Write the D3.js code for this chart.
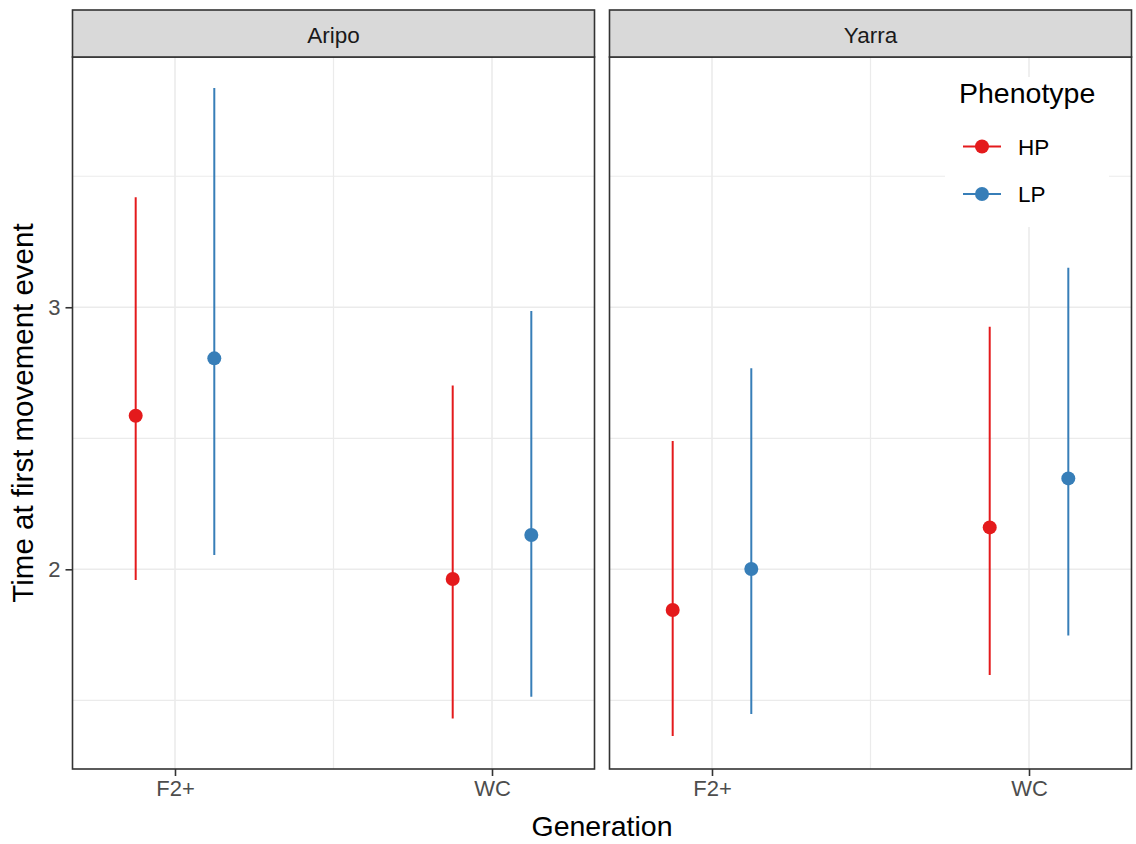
<!DOCTYPE html>
<html>
<head>
<meta charset="utf-8">
<script src="https://cdn.jsdelivr.net/npm/d3@7"></script>
<style>
  html, body { margin: 0; padding: 0; background: #fff; }
  svg { display: block; font-family: "Liberation Sans", Arial, sans-serif; }
</style>
</head>
<body>
<svg id="chart" width="1136" height="844"></svg>
<script>
// Facets, x categories and groups
const sites = ["Aripo", "Yarra"];
const generations = ["F2+", "WC"];
const phenotypes = ["HP", "LP"];

// Mean and interval bounds, indexed [site][generation]
const hpMean  = [[2.586, 1.963], [1.845, 2.160]];
const hpLower = [[1.959, 1.431], [1.364, 1.597]];
const hpUpper = [[3.420, 2.701], [2.490, 2.926]];
const lpMean  = [[2.805, 2.131], [2.001, 2.347]];
const lpLower = [[2.055, 1.514], [1.448, 1.747]];
const lpUpper = [[3.837, 2.986], [2.767, 3.151]];

const yTicks = [2, 3];
const yMinor = [1.5, 2.5, 3.5];
const yDomain = [1.238, 3.955];

const colors = { HP: "#E41A1C", LP: "#377EB8" };

// Long-format rows for drawing
const series = { HP: [hpMean, hpLower, hpUpper], LP: [lpMean, lpLower, lpUpper] };
const rows = [];
sites.forEach((s, si) => generations.forEach((g, gi) => phenotypes.forEach(p => {
  const [m, lo, hi] = series[p];
  rows.push({ site: s, gen: g, pheno: p, mean: m[si][gi], lo: lo[si][gi], hi: hi[si][gi] });
})));

const svg = d3.select("#chart");
const panelTop = 57, panelBottom = 769, stripTop = 10;
const panelW = 522, panelX = [72.5, 609.5];
const border = "#333333";

const y = d3.scaleLinear().domain(yDomain).range([panelBottom, panelTop]);
const x = d3.scalePoint().domain(generations).range([0, panelW]).padding(0.3233);
const dodge = d3.scalePoint().domain(phenotypes).range([-39.3, 39.3]);

sites.forEach((site, si) => {
  const g = svg.append("g").attr("transform", `translate(${panelX[si]},0)`);

  // panel background and grid
  g.append("rect").attr("x", 0).attr("y", panelTop).attr("width", panelW)
    .attr("height", panelBottom - panelTop).attr("fill", "#fff");
  g.selectAll(".yminor").data(yMinor).join("line")
    .attr("x1", 0).attr("x2", panelW).attr("y1", d => y(d)).attr("y2", d => y(d))
    .attr("stroke", "#ebebeb").attr("stroke-width", 1.2);
  g.selectAll(".ymajor").data(yTicks).join("line")
    .attr("x1", 0).attr("x2", panelW).attr("y1", d => y(d)).attr("y2", d => y(d))
    .attr("stroke", "#ebebeb").attr("stroke-width", 1.6);
  const xMid = (x(generations[0]) + x(generations[1])) / 2;
  g.append("line").attr("x1", xMid).attr("x2", xMid).attr("y1", panelTop).attr("y2", panelBottom)
    .attr("stroke", "#ebebeb").attr("stroke-width", 1.2);
  g.selectAll(".xmajor").data(generations).join("line")
    .attr("x1", d => x(d)).attr("x2", d => x(d)).attr("y1", panelTop).attr("y2", panelBottom)
    .attr("stroke", "#ebebeb").attr("stroke-width", 1.6);

  // interval lines and points
  const data = rows.filter(r => r.site === site);
  g.selectAll(".range").data(data).join("line")
    .attr("x1", d => x(d.gen) + dodge(d.pheno)).attr("x2", d => x(d.gen) + dodge(d.pheno))
    .attr("y1", d => y(d.lo)).attr("y2", d => y(d.hi))
    .attr("stroke", d => colors[d.pheno]).attr("stroke-width", 2);
  g.selectAll(".pt").data(data).join("circle")
    .attr("cx", d => x(d.gen) + dodge(d.pheno)).attr("cy", d => y(d.mean))
    .attr("r", 7).attr("fill", d => colors[d.pheno]);

  // panel border
  g.append("rect").attr("x", 0).attr("y", panelTop).attr("width", panelW)
    .attr("height", panelBottom - panelTop).attr("fill", "none")
    .attr("stroke", border).attr("stroke-width", 1.6);

  // strip
  g.append("rect").attr("x", 0).attr("y", stripTop).attr("width", panelW)
    .attr("height", panelTop - stripTop).attr("fill", "#d9d9d9")
    .attr("stroke", border).attr("stroke-width", 1.6);
  g.append("text").attr("x", panelW / 2).attr("y", (stripTop + panelTop) / 2 + 9.5)
    .attr("text-anchor", "middle").attr("font-size", 22.5).attr("fill", "#1a1a1a").text(site);

  // x axis
  const xa = g.append("g").attr("transform", `translate(0,${panelBottom})`)
    .call(d3.axisBottom(x).tickSize(7).tickPadding(4));
  xa.select(".domain").remove();
  xa.selectAll(".tick line").attr("stroke", border).attr("stroke-width", 1.6);
  xa.selectAll(".tick text").attr("font-size", 22).attr("fill", "#4d4d4d")
    .attr("font-family", "Liberation Sans, Arial, sans-serif");

  // y axis on first facet only
  if (si === 0) {
    const ya = g.append("g").call(d3.axisLeft(y).tickValues(yTicks).tickSize(7).tickPadding(5).tickFormat(d3.format("d")));
    ya.select(".domain").remove();
    ya.selectAll(".tick line").attr("stroke", border).attr("stroke-width", 1.6);
    ya.selectAll(".tick text").attr("font-size", 22).attr("fill", "#4d4d4d")
      .attr("font-family", "Liberation Sans, Arial, sans-serif");
  }
});

// axis titles
svg.append("text").attr("x", (panelX[0] + panelX[1] + panelW) / 2).attr("y", 836)
  .attr("text-anchor", "middle").attr("font-size", 28.5).attr("fill", "#000").text("Generation");
svg.append("text").attr("transform", `translate(33,${(panelTop + panelBottom) / 2}) rotate(-90)`)
  .attr("text-anchor", "middle").attr("font-size", 29.5).attr("fill", "#000")
  .text("Time at first movement event");

// legend inside the right facet
const lg = svg.append("g").attr("transform", "translate(945,77)");
lg.append("rect").attr("x", 0).attr("y", 0).attr("width", 164).attr("height", 150).attr("fill", "#fff");
lg.append("text").attr("x", 14).attr("y", 26).attr("font-size", 28.5).attr("fill", "#000").text("Phenotype");
const items = lg.selectAll(".item").data(phenotypes).join("g")
  .attr("transform", (d, i) => `translate(0,${69.5 + i * 47.5})`);
items.append("line").attr("x1", 18).attr("x2", 56).attr("y1", 0).attr("y2", 0)
  .attr("stroke", d => colors[d]).attr("stroke-width", 2);
items.append("circle").attr("cx", 37).attr("cy", 0).attr("r", 7).attr("fill", d => colors[d]);
items.append("text").attr("x", 73).attr("y", 8).attr("font-size", 22.5).attr("fill", "#000").text(d => d);
</script>
</body>
</html>
